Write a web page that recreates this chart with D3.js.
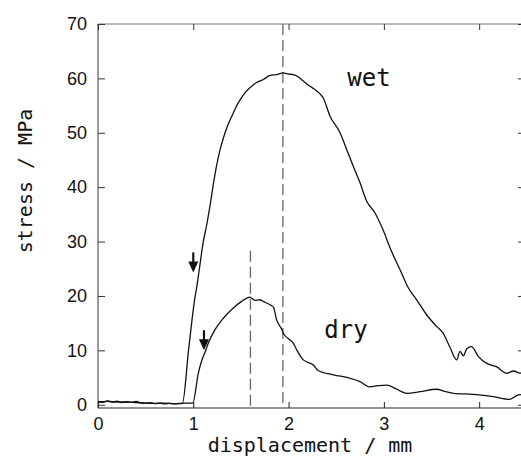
<!DOCTYPE html>
<html>
<head>
<meta charset="utf-8">
<script src="https://cdn.jsdelivr.net/npm/d3@7"></script>
<style>
  body { margin: 0; background: #fff; }
  .tick text { font-family: "Liberation Sans", Arial, sans-serif; font-size: 18px; fill: #111; }
  .title { font-family: "DejaVu Sans Mono", "Liberation Mono", monospace; fill: #111; }
</style>
</head>
<body>
<svg width="521" height="457"></svg>
<script>
// stress-displacement
const wet = [
  [0, 0.6], [0.05, 0.45], [0.1, 0.7], [0.15, 0.5], [0.2, 0.65], [0.25, 0.4], [0.3, 0.55],
  [0.35, 0.45], [0.4, 0.6], [0.45, 0.35], [0.5, 0.3], [0.55, 0.4], [0.6, 0.2], [0.65, 0.3],
  [0.7, 0.15], [0.75, 0.25], [0.8, 0.15], [0.85, 0.2], [0.885, 0.2],
  [0.95, 10], [1.0, 17.5], [1.02, 20], [1.035, 21.5], [1.06, 24.5], [1.105, 30], [1.14, 33],
  [1.175, 36.5], [1.21, 40.5], [1.245, 44], [1.28, 46.8], [1.315, 49], [1.36, 51.3],
  [1.403, 53], [1.45, 54.8], [1.49, 56], [1.54, 57.3], [1.595, 58.3], [1.66, 59.2],
  [1.735, 59.8], [1.80, 60.5], [1.875, 60.7], [1.944, 61.0], [2.0, 60.8], [2.05, 60.7],
  [2.10, 60.3], [2.155, 59.5], [2.22, 58.6], [2.295, 57.7], [2.364, 56.4], [2.434, 53.1],
  [2.54, 50.0], [2.61, 46.9], [2.68, 43.8], [2.75, 40.8], [2.82, 37.4], [2.906, 35.3],
  [2.99, 32.2], [3.08, 28.2], [3.17, 24.8], [3.256, 21.5], [3.344, 19.3], [3.45, 16.5],
  [3.554, 14.4], [3.62, 13.2], [3.69, 10.7], [3.764, 8.25], [3.80, 9.8], [3.834, 9.0],
  [3.87, 10.3], [3.92, 10.7], [3.99, 8.9], [4.08, 7.6], [4.18, 7.0], [4.29, 5.8],
  [4.36, 6.2], [4.43, 5.8], [4.46, 6.0]
];

const dry = [
  [0, 0.5], [0.1, 0.6], [0.2, 0.5], [0.3, 0.5], [0.4, 0.4], [0.5, 0.3], [0.6, 0.25],
  [0.7, 0.3], [0.8, 0.2], [0.9, 0.3], [0.994, 0.3],
  [1.053, 5.8], [1.105, 8.9], [1.12, 9.5], [1.157, 11.3], [1.228, 13.8], [1.315, 15.9],
  [1.42, 17.8], [1.508, 19.0], [1.595, 19.8], [1.647, 19.2], [1.70, 19.3], [1.735, 19.0],
  [1.823, 18.2], [1.84, 18.0], [1.875, 15.6], [1.93, 13.8], [1.944, 13.2], [2.015, 11.9],
  [2.05, 11.3], [2.085, 10.1], [2.155, 8.25], [2.19, 7.9], [2.26, 7.3], [2.31, 6.3],
  [2.47, 5.5], [2.64, 4.9], [2.75, 4.25], [2.85, 3.3], [2.94, 3.5], [3.03, 3.6],
  [3.13, 2.9], [3.24, 2.1], [3.38, 2.4], [3.55, 2.85], [3.65, 2.4], [3.73, 2.1],
  [3.94, 1.9], [4.15, 1.5], [4.32, 1.0], [4.41, 1.8], [4.46, 1.9]
];

// dashed peak markers and the two arrows
const peakX = [1.94, 1.60];
const peakTop = [70, 28.3];
const arrowX = [1.0, 1.112];
const arrowTop = [28, 13.7];
const arrowTip = [24.3, 10];

const xTicks = [0, 1, 2, 3, 4];
const yTicks = [0, 10, 20, 30, 40, 50, 60, 70];

const svg = d3.select("svg");
const margin = { left: 98, top: 24, right: 523, bottom: 408 };

const x = d3.scaleLinear().domain([0, 4.46]).range([margin.left, margin.right]);
const y = d3.scaleLinear().domain([-0.6, 70]).range([margin.bottom, margin.top]);

// frame
svg.append("line").attr("x1", margin.left).attr("x2", margin.right)
  .attr("y1", margin.top).attr("y2", margin.top).attr("stroke", "#777");
svg.append("line").attr("x1", margin.left).attr("x2", margin.right)
  .attr("y1", margin.bottom).attr("y2", margin.bottom).attr("stroke", "#222");
svg.append("line").attr("x1", margin.left).attr("x2", margin.left)
  .attr("y1", margin.top).attr("y2", margin.bottom).attr("stroke", "#333");

const xAxis = svg.append("g")
  .attr("transform", `translate(0, ${margin.bottom})`)
  .call(d3.axisBottom(x).tickValues(xTicks).tickFormat(d3.format("d"))
    .tickSizeInner(-6).tickSizeOuter(0).tickPadding(9));
xAxis.select(".domain").remove();
xAxis.selectAll(".tick line").attr("stroke", "#222");

const xTop = svg.append("g")
  .attr("transform", `translate(0, ${margin.top})`)
  .call(d3.axisTop(x).tickValues(xTicks).tickSizeInner(-6).tickSizeOuter(0).tickFormat(""));
xTop.select(".domain").remove();
xTop.selectAll(".tick line").attr("stroke", "#333");

const yAxis = svg.append("g")
  .attr("transform", `translate(${margin.left}, 0)`)
  .call(d3.axisLeft(y).tickValues(yTicks).tickFormat(d3.format("d"))
    .tickSizeInner(-7).tickSizeOuter(0).tickPadding(11));
yAxis.select(".domain").remove();
yAxis.selectAll(".tick line").attr("stroke", "#333");

const yRight = svg.append("g")
  .attr("transform", `translate(${margin.right}, 0)`)
  .call(d3.axisRight(y).tickValues(yTicks).tickSizeInner(-5).tickSizeOuter(0).tickFormat(""));
yRight.select(".domain").remove();
yRight.selectAll(".tick line").attr("stroke", "#333");

// dashed verticals
svg.selectAll(".peak").data(peakX).enter().append("line")
  .attr("class", "peak")
  .attr("x1", d => x(d)).attr("x2", d => x(d))
  .attr("y1", (d, i) => y(peakTop[i])).attr("y2", y(-0.6))
  .attr("stroke", "#666").attr("stroke-width", 1.3)
  .attr("stroke-dasharray", "11,5");

// curves
const line = d3.line().x(d => x(d[0])).y(d => y(d[1])).curve(d3.curveMonotoneX);
[wet, dry].forEach(s => {
  svg.append("path").datum(s)
    .attr("d", line)
    .attr("fill", "none")
    .attr("stroke", "#111")
    .attr("stroke-width", 1.3)
    .attr("stroke-linejoin", "round");
});

// arrows
arrowX.forEach((a, i) => {
  const ax = x(a), y0 = y(arrowTop[i]), y1 = y(arrowTip[i]);
  svg.append("line").attr("x1", ax).attr("x2", ax).attr("y1", y0).attr("y2", y1 - 9)
    .attr("stroke", "#111").attr("stroke-width", 2.2);
  svg.append("path")
    .attr("d", `M${ax - 5},${y1 - 11} L${ax + 5},${y1 - 11} L${ax},${y1} Z`)
    .attr("fill", "#111");
});

// labels
svg.append("text").attr("class", "title")
  .attr("x", 310).attr("y", 452)
  .attr("text-anchor", "middle").attr("font-size", 20)
  .text("displacement / mm");

svg.append("text").attr("class", "title")
  .attr("transform", "translate(32, 181) rotate(-90)")
  .attr("text-anchor", "middle").attr("font-size", 20)
  .text("stress / MPa");

svg.append("text").attr("class", "title")
  .attr("x", 369).attr("y", 86)
  .attr("text-anchor", "middle").attr("font-size", 24)
  .text("wet");

svg.append("text").attr("class", "title")
  .attr("x", 346).attr("y", 338)
  .attr("text-anchor", "middle").attr("font-size", 24)
  .text("dry");
</script>
</body>
</html>
